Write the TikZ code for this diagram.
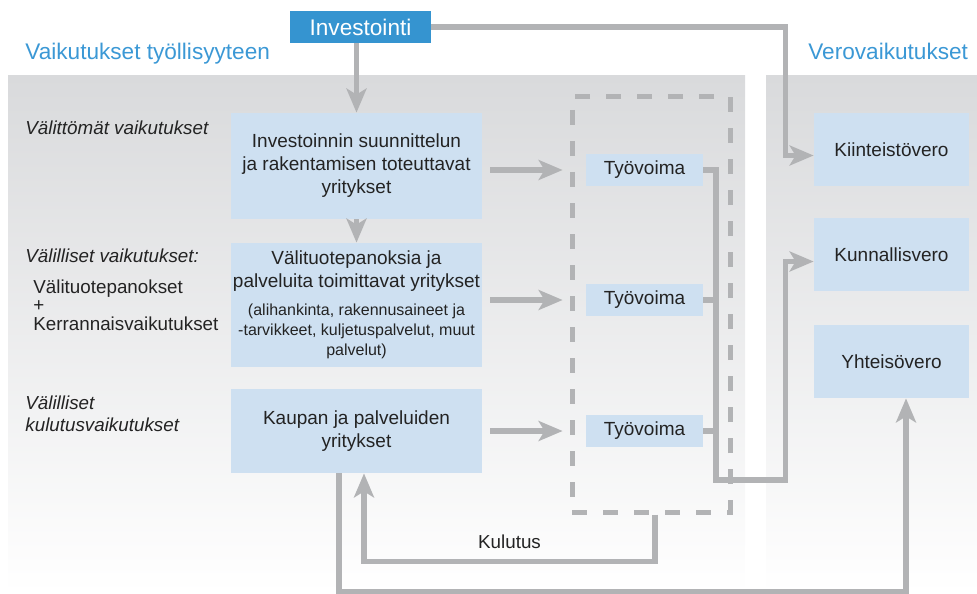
\documentclass[tikz,border=0pt]{standalone}
\usepackage{fontspec}
\setmainfont{Liberation Sans}
\usepackage{tikz}
\usetikzlibrary{positioning,arrows.meta}

\definecolor{titleblue}{RGB}{59,152,213}
\definecolor{investblue}{RGB}{53,148,208}
\definecolor{boxblue}{RGB}{206,224,241}
\definecolor{linegray}{RGB}{178,179,181}
\definecolor{panelgray}{RGB}{217,218,220}
\definecolor{panelmid}{RGB}{230,231,233}
\definecolor{textdark}{RGB}{35,35,35}

\begin{document}
\begin{tikzpicture}[x=0.5pt, y=-0.5pt,
    box/.style={fill=boxblue, text=textdark, inner sep=0pt, align=center,
      font=\fontsize{9.5}{11.5}\selectfont},
    flow/.style={draw=linegray, line width=2.7pt,
      -{Stealth[length=12pt,width=10pt,inset=3pt]}},
    link/.style={draw=linegray, line width=2.7pt},
    side/.style={anchor=west, text=textdark, align=left, inner sep=0pt,
      font=\fontsize{9.4}{11}\selectfont\itshape},
    heading/.style={anchor=base west, text=titleblue, inner sep=0pt,
      font=\fontsize{11.3}{13}\selectfont}]
      \useasboundingbox (0,0) rectangle (977,593);
      % panels
      \shade[top color=panelgray, middle color=panelmid, bottom color=white]
        (8,76) rectangle (745,593);
      \shade[top color=panelgray, middle color=panelmid, bottom color=white]
        (766,76) rectangle (977,593);
      \node[heading] (jobs) at (25,60) {Vaikutukset työllisyyteen};
      \node[heading] (taxes) at (808,60) {Verovaikutukset};
      \node[draw=linegray, line width=2.5pt, dash pattern=on 7.5pt off 8pt,
        minimum width=79pt, minimum height=207.5pt] (tvbox) at (651,304.5) {};
      % nodes
      \node[fill=investblue, text=white, inner sep=0pt, minimum width=70.5pt,
        minimum height=16pt, font=\fontsize{11.3}{13}\selectfont]
        (invest) at (360.5,27) {Investointi};
      \node[box, minimum width=125.5pt, minimum height=53pt] (box1) at (356.5,166)
        {Investoinnin suunnittelun\\ja rakentamisen toteuttavat\\yritykset};
      \node[box, minimum width=125.5pt, minimum height=62pt] (box2) at (356.5,305)
        {Välituotepanoksia ja\\palveluita toimittavat yritykset\\[2.5pt]
        {\fontsize{8}{10}\selectfont (alihankinta, rakennusaineet ja}\\[-1.5pt]
        {\fontsize{8}{10}\selectfont -tarvikkeet, kuljetuspalvelut, muut}\\[-1.5pt]
        {\fontsize{8}{10}\selectfont palvelut)}};
      \node[box, minimum width=125.5pt, minimum height=42pt] (box3) at (356.5,431)
        {Kaupan ja palveluiden\\yritykset};
      \node[box, minimum width=58.5pt, minimum height=16pt] (tv1) at (644.5,170) {Työvoima};
      \node[box, minimum width=58.5pt, minimum height=16pt] (tv2) at (644.5,300) {Työvoima};
      \node[box, minimum width=58.5pt, minimum height=16pt] (tv3) at (644.5,431) {Työvoima};
      \node[box, minimum width=77.5pt, minimum height=36.5pt] (kiint) at (891.5,149.5) {Kiinteistövero};
      \node[box, minimum width=77.5pt, minimum height=36.5pt] (kunn) at (891.5,254.5) {Kunnallisvero};
      \node[box, minimum width=77.5pt, minimum height=36.5pt] (yht) at (891.5,361.5) {Yhteisövero};
      % side labels
      \node[side] (direct) at (25,128) {Välittömät vaikutukset};
      \node[side] (indirect) at (25,256) {Välilliset vaikutukset:};
      \node[side, font=\fontsize{9.4}{9.3}\selectfont] (inputs) at (33,305)
        {Välituotepanokset\\+\\Kerrannaisvaikutukset};
      \node[side] (consume) at (25,414) {Välilliset\\kulutusvaikutukset};
      % connectors
      \coordinate (tvjoin) at (716,480);
      \draw[flow] (box1.north |- invest.south) -- (box1.north);
      \draw[flow] (box1.south) -- (box2.north);
      \draw[flow, shorten <=4pt, shorten >=11.5pt] (box1.east |- tv1.west) -- (tv1.west);
      \draw[flow, shorten <=4pt, shorten >=11.5pt] (box2.east |- tv2.west) -- (tv2.west);
      \draw[flow, shorten <=4pt, shorten >=11.5pt] (box3.east |- tv3.west) -- (tv3.west);
      \draw[flow] (invest.east) -| ([xshift=-14pt,yshift=-3pt]kiint.west)
        -- ([yshift=-3pt]kiint.west);
      \draw[link] (tv2.east) -- (tv2.east -| tvjoin);
      \draw[link] (tv3.east) -- (tv3.east -| tvjoin);
      \draw[flow] (tv1.east) -| (tvjoin) -| ([xshift=-14pt,yshift=-3.5pt]kunn.west)
        -- ([yshift=-3.5pt]kunn.west);
      \draw[flow] ([xshift=2pt]tvbox.south) |- ([xshift=3.75pt,yshift=-44pt]box3.south)
        node[pos=0.75, above=5pt, inner sep=0pt, text=textdark,
          font=\fontsize{9.4}{11}\selectfont] (kulutus) {Kulutus}
        -- ([xshift=3.75pt]box3.south);
      \draw[flow] ([xshift=-8.75pt]box3.south) -- ++(0,-59pt) -| ([xshift=7.25pt]yht.south);
    \end{tikzpicture}
\end{document}
